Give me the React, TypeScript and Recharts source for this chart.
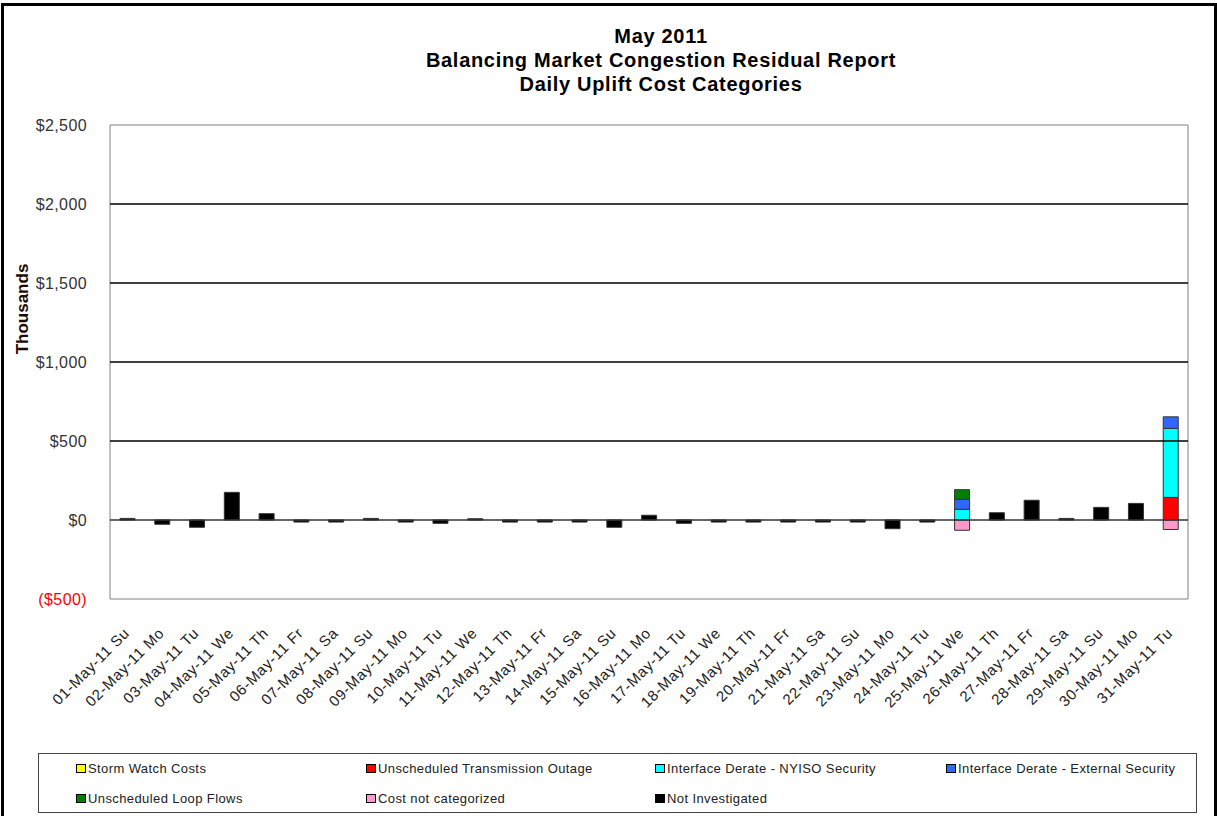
import { BarChart, Bar, XAxis, YAxis, ReferenceLine, ReferenceArea } from 'recharts'

const days = [
  '01-May-11 Su', '02-May-11 Mo', '03-May-11 Tu', '04-May-11 We', '05-May-11 Th', '06-May-11 Fr', '07-May-11 Sa',
  '08-May-11 Su', '09-May-11 Mo', '10-May-11 Tu', '11-May-11 We', '12-May-11 Th', '13-May-11 Fr', '14-May-11 Sa',
  '15-May-11 Su', '16-May-11 Mo', '17-May-11 Tu', '18-May-11 We', '19-May-11 Th', '20-May-11 Fr', '21-May-11 Sa',
  '22-May-11 Su', '23-May-11 Mo', '24-May-11 Tu', '25-May-11 We', '26-May-11 Th', '27-May-11 Fr', '28-May-11 Sa',
  '29-May-11 Su', '30-May-11 Mo', '31-May-11 Tu',
]

// thousands of dollars
const stormWatch = days.map(() => 0)
const transmissionOutage = [0, 0, 0, 0, 0, 0, 0, 0, 0, 0, 0, 0, 0, 0, 0, 0, 0, 0, 0, 0, 0, 0, 0, 0, 0, 0, 0, 0, 0, 0, 143]
const nyisoSecurity = [0, 0, 0, 0, 0, 0, 0, 0, 0, 0, 0, 0, 0, 0, 0, 0, 0, 0, 0, 0, 0, 0, 0, 0, 68, 0, 0, 0, 0, 0, 437]
const externalSecurity = [0, 0, 0, 0, 0, 0, 0, 0, 0, 0, 0, 0, 0, 0, 0, 0, 0, 0, 0, 0, 0, 0, 0, 0, 63, 0, 0, 0, 0, 0, 73]
const loopFlows = [0, 0, 0, 0, 0, 0, 0, 0, 0, 0, 0, 0, 0, 0, 0, 0, 0, 0, 0, 0, 0, 0, 0, 0, 61, 0, 0, 0, 0, 0, 0]
const notCategorized = [0, 0, 0, 0, 0, 0, 0, 0, 0, 0, 0, 0, 0, 0, 0, 0, 0, 0, 0, 0, 0, 0, 0, 0, -65, 0, 0, 0, 0, 0, -60]
const notInvestigated = [
  10, -27, -46, 175, 40, -13, -13, 10, -13, -21, 8, -13, -13, -13, -46, 30,
  -21, -13, -13, -13, -13, -13, -55, -13, 0, 46, 125, 10, 80, 105, 0,
]

const yTicks = [-500, 0, 500, 1000, 1500, 2000, 2500]
const gridLines = [500, 1000, 1500, 2000]

const series = [
  { key: 'storm', name: 'Storm Watch Costs', color: '#FFFF00', values: stormWatch },
  { key: 'outage', name: 'Unscheduled Transmission Outage', color: '#FF0000', values: transmissionOutage },
  { key: 'nyiso', name: 'Interface Derate - NYISO Security', color: '#00FFFF', values: nyisoSecurity },
  { key: 'external', name: 'Interface Derate - External Security', color: '#3366FF', values: externalSecurity },
  { key: 'loop', name: 'Unscheduled Loop Flows', color: '#008000', values: loopFlows },
  { key: 'uncat', name: 'Cost not categorized', color: '#FF99CC', values: notCategorized },
  { key: 'notinv', name: 'Not Investigated', color: '#000000', values: notInvestigated },
]

const data = days.map((day, i) => {
  const row: Record<string, string | number> = { day }
  series.forEach(s => { row[s.key] = s.values[i] })
  return row
})

const font = '"Liberation Sans", Arial, sans-serif'

const fmtY = (v: number) => (v < 0 ? `($${Math.abs(v).toLocaleString('en-US')})` : `$${v.toLocaleString('en-US')}`)

function YTick({ x, y, payload }: { x?: number; y?: number; payload?: { value: number } }) {
  const v = payload?.value ?? 0
  return (
    <text x={(x ?? 0) - 23} y={y} dy={6} textAnchor="end" fontSize={16} fontFamily={font} fill={v < 0 ? '#FF0000' : '#333'} letterSpacing={0.4}>
      {fmtY(v)}
    </text>
  )
}

function XTick({ x, y, payload }: { x?: number; y?: number; payload?: { value: string } }) {
  const px = (x ?? 0) + 3
  const py = (y ?? 0) + 35
  return (
    <text x={px} y={py} transform={`rotate(-45, ${px}, ${py})`} textAnchor="end" fontSize={15} fontFamily={font} fill="#222" letterSpacing={0.7}>
      {payload?.value}
    </text>
  )
}

const legendCols = [37, 327, 616, 907]

export default function App() {
  return (
    <div style={{ position: 'absolute', left: 0, top: 0, width: 1217, height: 816, background: '#fff', overflow: 'hidden', fontFamily: font }}>
      <div style={{ position: 'absolute', left: 1, top: 3, width: 1210, height: 840, border: '3px solid #000' }} />
      <div style={{ position: 'absolute', left: 0, top: 24, width: 1322, textAlign: 'center', fontWeight: 'bold', fontSize: 20, lineHeight: '24px', color: '#000', letterSpacing: 0.7 }}>
        <div>May 2011</div>
        <div>Balancing Market Congestion Residual Report</div>
        <div>Daily Uplift Cost Categories</div>
      </div>
      <div style={{ position: 'absolute', left: 23, top: 309, transform: 'translate(-50%, -50%) rotate(-90deg)', fontWeight: 'bold', fontSize: 17, color: '#1e0a02', whiteSpace: 'nowrap' }}>
        Thousands
      </div>
      <div style={{ position: 'absolute', left: 0, top: 0 }}>
        <BarChart width={1217} height={816} data={data} stackOffset="sign" margin={{ top: 125, right: 29, bottom: 97, left: 0 }}>
          <ReferenceArea y1={-500} y2={2500} stroke="#808080" strokeWidth={1} fill="none" fillOpacity={0} ifOverflow="visible" />
          {gridLines.map(v => (
            <ReferenceLine key={v} y={v} stroke="#000" strokeWidth={1.4} />
          ))}
          <ReferenceLine y={0} stroke="#333" strokeWidth={1.4} />
          <XAxis dataKey="day" interval={0} height={120} axisLine={false} tickLine={false} tickSize={0} tickMargin={0} tick={<XTick />} />
          <YAxis domain={[-500, 2500]} ticks={yTicks} width={110} axisLine={false} tickLine={false} tickSize={0} tickMargin={0} tick={<YTick />} />
          {series.map(s => (
            <Bar key={s.key} dataKey={s.key} name={s.name} stackId="a" fill={s.color} stroke="#333" strokeWidth={1} barSize={15} isAnimationActive={false} />
          ))}
        </BarChart>
      </div>
      <div style={{ position: 'absolute', left: 38, top: 753, width: 1159, height: 60, border: '1px solid #444', boxSizing: 'border-box' }}>
        {series.map((s, i) => (
          <div key={s.key} style={{ position: 'absolute', left: legendCols[i % 4], top: i < 4 ? 7 : 37, display: 'flex', alignItems: 'center', fontSize: 13, color: '#222', whiteSpace: 'nowrap', letterSpacing: 0.4 }}>
            <span style={{ width: 8, height: 7, background: s.color, border: '1px solid #000', marginRight: 2 }} />
            {s.name}
          </div>
        ))}
      </div>
    </div>
  )
}
